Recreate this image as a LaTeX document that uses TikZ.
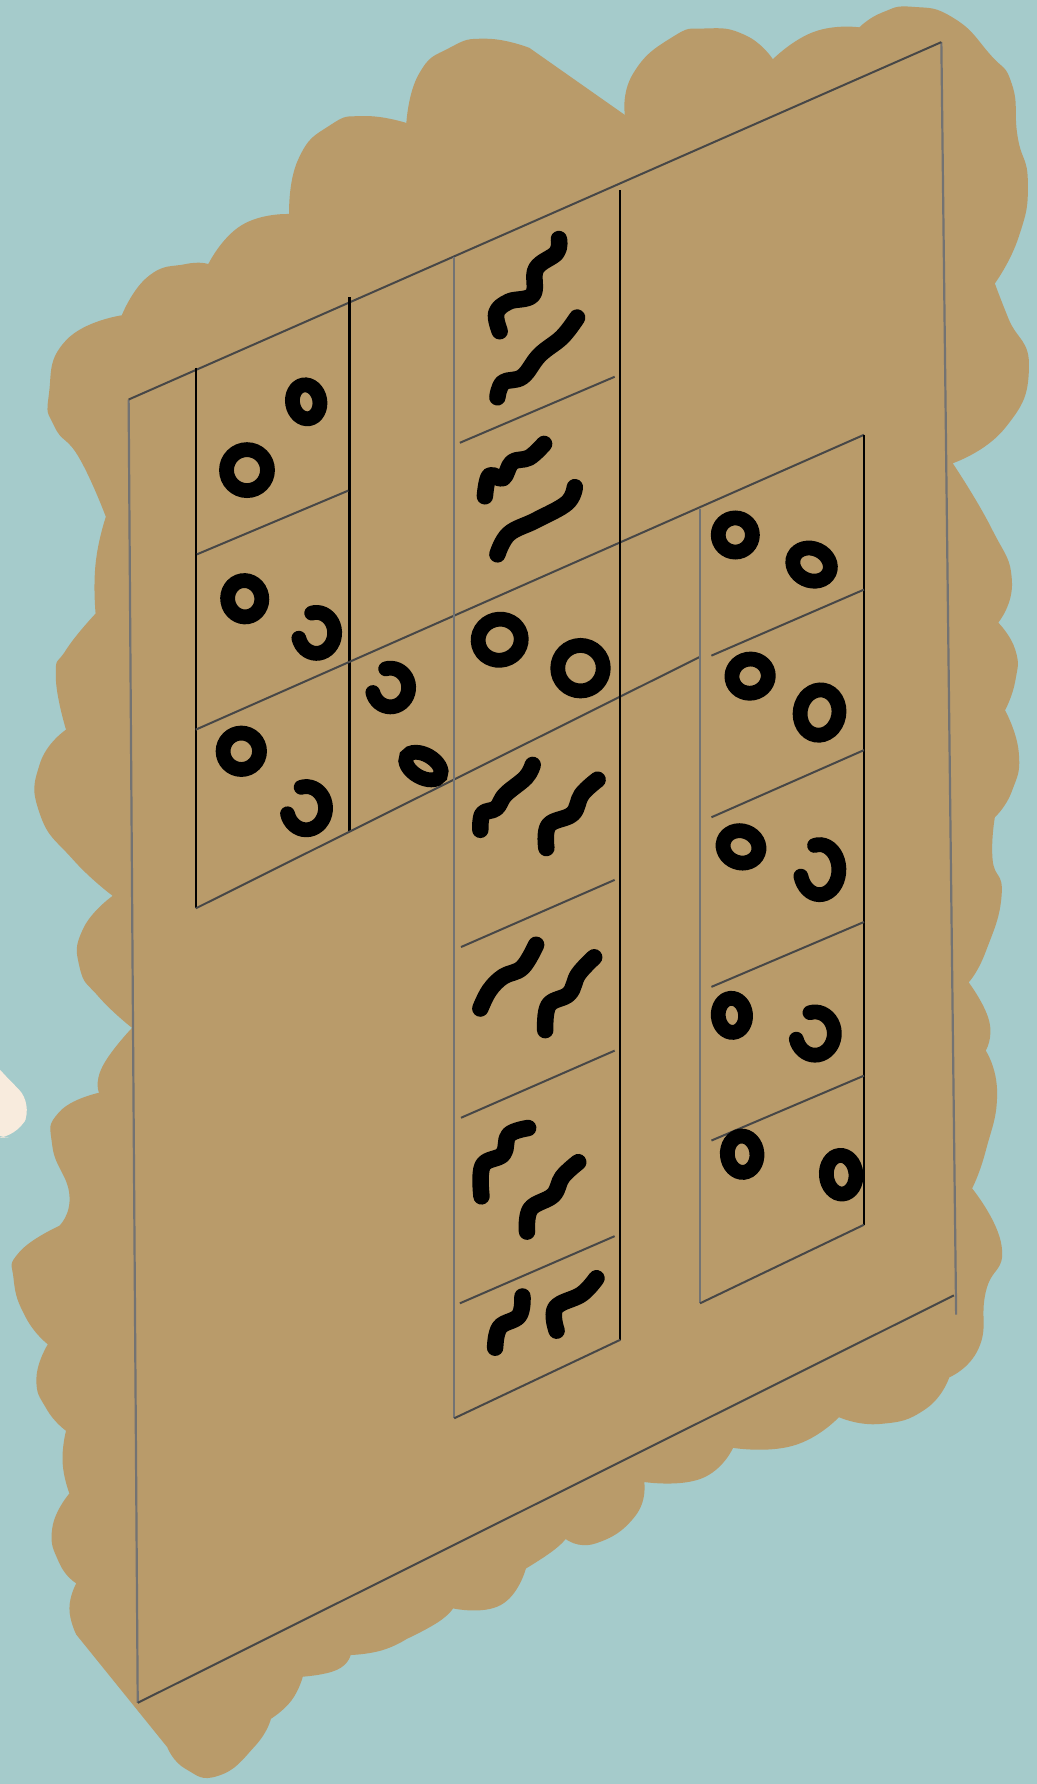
\documentclass[tikz,border=0pt]{standalone}
\definecolor{seacol}{HTML}{A5CBCB}
\definecolor{landcol}{HTML}{B99B6A}
\definecolor{sandcol}{HTML}{F8EBDD}
\tikzset{
    thingray/.style={draw=black!55, line width=.55pt},
    thinblack/.style={draw=black, line width=.55pt},
    thindark/.style={draw=black!72, line width=.5pt},
    bump/.style={smooth, tension=.9},
    wiggle/.style={smooth, tension=.65},
    ringline/.style={draw=black, line width=.13cm, line cap=round},
    wormline/.style={draw=black, line width=.145cm, line cap=round, line join=round}
}
\begin{document}
\begin{tikzpicture}[x=.01cm, y=-.01cm]
        \useasboundingbox (0,0) rectangle (911,1567.3);
        % Draw the sea
        \fill[seacol] (0,0) rectangle (911,1567.3);

        % Draw the small spit at the left edge
        \fill[sandcol, rounded corners=5] (-10,930) -- (0,940) -- (29,970) -- (15,999) -- (-10,1000) -- cycle;

        % Draw the land, bump after bump, clockwise from the left
        \fill[landcol]
            plot[bump] coordinates {(93,454) (70,403) (48,375) (43,346) (58,299) (107,277)}
            -- plot[bump] coordinates {(107,277) (130,243) (163,232) (183,232)}
            -- plot[bump] coordinates {(183,232) (212,198) (254,188)}
            -- plot[bump] coordinates {(254,188) (262,140) (290,110) (320,102) (357,108)}
            -- plot[bump] coordinates {(357,108) (368,65) (395,42) (427,34) (465,42)}
            -- (549,101)
            -- plot[bump] coordinates {(549,101) (556,65) (590,33) (620,25) (655,31) (679,52)}
            -- plot[bump] coordinates {(679,52) (715,28) (755,24)}
            -- plot[bump] coordinates {(755,24) (775,11) (802,6) (838,16) (870,48) (889,74) (894,120) (903,160) (895,208) (874,249)}
            -- plot[bump] coordinates {(874,249) (886,280) (904,323) (883,376) (837,407)}
            -- plot[bump] coordinates {(837,407) (871,464) (889,510) (877,547)}
            -- plot[bump] coordinates {(877,547) (892,571) (892,598) (883,624)}
            -- plot[bump] coordinates {(883,624) (895,661) (889,695) (874,718)}
            -- plot[bump] coordinates {(874,718) (872,755) (880,786) (866,836) (851,863)}
            -- plot[bump] coordinates {(851,863) (869,897) (866,923)}
            -- plot[bump] coordinates {(866,923) (876,960) (866,1011) (854,1044)}
            -- plot[bump] coordinates {(854,1044) (880,1095) (866,1135) (860,1184) (834,1210)}
            -- plot[bump] coordinates {(834,1210) (813,1238) (773,1251) (737,1245)}
            -- plot[bump] coordinates {(737,1245) (697,1270) (644,1272)}
            -- plot[bump] coordinates {(644,1272) (616,1299) (566,1302)}
            -- plot[bump] coordinates {(566,1302) (558,1332) (523,1356) (497,1352)}
            -- plot[bump] coordinates {(497,1352) (485,1363) (462,1378)}
            -- plot[bump] coordinates {(462,1378) (440,1410) (398,1413)}
            -- plot[bump] coordinates {(398,1413) (385,1425) (357,1440)}
            -- plot[bump] coordinates {(357,1440) (335,1450) (308,1454)}
            -- plot[bump] coordinates {(308,1454) (296,1467) (266,1473)}
            -- plot[bump] coordinates {(266,1473) (256,1494) (238,1510)}
            -- plot[bump] coordinates {(238,1510) (224,1534) (192,1560) (163,1554) (147,1535)}
            -- (67,1436)
            -- plot[bump] coordinates {(67,1436) (61,1413) (67,1391)}
            -- plot[bump] coordinates {(67,1391) (52,1373) (46,1342) (61,1312)}
            -- plot[bump] coordinates {(61,1312) (55,1285) (58,1257)}
            -- plot[bump] coordinates {(58,1257) (41,1238) (32,1211) (42,1181)}
            -- plot[bump] coordinates {(42,1181) (23,1158) (12,1124) (17,1100) (52,1077)}
            -- plot[bump] coordinates {(52,1077) (61,1050) (46,1007) (52,977) (87,960)}
            -- plot[bump] coordinates {(87,960) (90,937) (116,903)}
            -- plot[bump] coordinates {(116,903) (87,876) (70,850) (73,816) (99,787)}
            -- plot[bump] coordinates {(99,787) (64,755) (35,715) (35,671) (58,641)}
            -- plot[bump] coordinates {(58,641) (49,594) (58,571) (84,539)}
            -- plot[bump] coordinates {(84,539) (84,495) (93,454)}
            -- cycle;

        % Draw the outer frame
        \draw[thingray] (113,351) -- (121,1496);
        \draw[thingray] (827,37) -- (840,1155);
        \draw[thindark] (121,1496) -- (838,1138);
        \draw[thindark] (113,351) -- (827,37);

        % Draw the upper left block
        \draw[thinblack] (172,323) -- (172,798);
        \draw[thinblack] (307,261) -- (307,730);
        \draw[thindark] (173,487) -- (306,431);

        % Draw the long diagonals
        \draw[thindark] (172,641) -- (759,382);
        \draw[thindark] (172,798) -- (615,577);

        % Draw the middle column
        \draw[thingray] (399,226) -- (399,1246);
        \draw[thinblack] (545,167) -- (545,1177);
        \draw[thindark] (399,1246) -- (545,1177);
        \draw[thindark] (404,389) -- (540,331);
        \draw[thindark] (405,832) -- (540,773);
        \draw[thindark] (405,982) -- (540,923);
        \draw[thindark] (404,1145) -- (540,1086);

        % Draw the right column
        \draw[thingray] (615,447) -- (615,1145);
        \draw[thinblack] (759,382) -- (759,1076);
        \draw[thindark] (615,1145) -- (759,1076);
        \draw[thindark] (625,576) -- (759,518);
        \draw[thindark] (625,718) -- (759,659);
        \draw[thindark] (625,867) -- (759,810);
        \draw[thindark] (625,1002) -- (759,945);

        % Closed rings: x, y, x radius, y radius, rotation
        \foreach \xc/\yc/\xr/\yr/\rot in {
            269/353/12/15/10, 217/413/18/18/0, 215/526/15/16/10, 212/660/16/16/0,
            372/673/17/10/-30, 439/562/19/18/15, 510/587/20/20/0,
            646/470/15/15/0, 713/496/17/14/-25, 659/594/16/15/10, 720/626/17/20/-10,
            651/744/16/14/-20, 643/892/12/15/5, 652/1014/13/16/5, 739/1032/13/17/5} {
            \draw[ringline, rotate around={\rot:(\xc,\yc)}] (\xc,\yc) ellipse[x radius=\xr, y radius=\yr];
        }

        % Open rings, gap on their left
        \foreach \xc/\yc/\xr/\yr in {278/556/16/18, 343/604/16/17, 269/710/17/19, 720/764/17/22, 716/908/17/19} {
            \draw[ringline, domain=-105:165, samples=30, variable=\t] plot ({\xc+\xr*cos(\t)},{\yc+\yr*sin(\t)});
        }

        % Worms in the middle column
        \draw[wormline] plot[wiggle] coordinates {(491,210) (489,222) (471,236) (468,259) (447,265) (436,275) (439,291)};
        \draw[wormline] plot[wiggle] coordinates {(507,279) (494,296) (474,312) (459,331) (442,336) (437,349)};
        \draw[wormline] plot[wiggle] coordinates {(478,390) (465,402) (450,406) (442,420) (430,418) (426,436)};
        \draw[wormline] plot[wiggle] coordinates {(505,428) (498,442) (471,457) (447,469) (437,487)};
        \draw[wormline] plot[wiggle] coordinates {(468,672) (462,683) (444,698) (436,710) (424,715) (422,729)};
        \draw[wormline] plot[wiggle] coordinates {(525,685) (511,698) (503,715) (482,725) (480,745)};
        \draw[wormline] plot[wiggle] coordinates {(471,830) (459,850) (442,858) (430,870) (422,886)};
        \draw[wormline] plot[wiggle] coordinates {(522,841) (508,856) (500,873) (482,883) (479,905)};
        \draw[wormline] plot[wiggle] coordinates {(464,991) (447,997) (442,1014) (424,1024) (423,1051)};
        \draw[wormline] plot[wiggle] coordinates {(508,1021) (494,1034) (486,1050) (466,1062) (463,1082)};
        \draw[wormline] plot[wiggle] coordinates {(459,1139) (456,1156) (439,1166) (435,1184)};
        \draw[wormline] plot[wiggle] coordinates {(524,1123) (511,1137) (488,1149) (489,1169)};
    \end{tikzpicture}
\end{document}
